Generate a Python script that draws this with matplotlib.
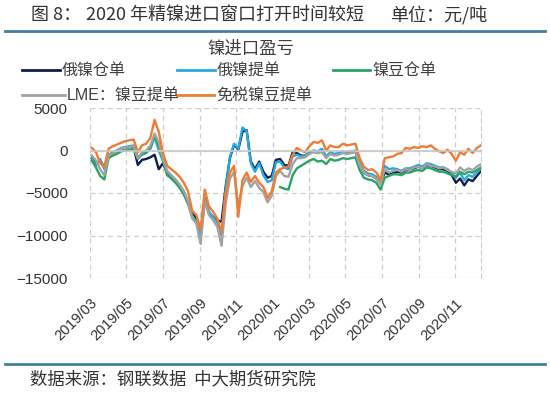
import numpy as np
import pandas as pd
import matplotlib
matplotlib.use('Agg')
import matplotlib.pyplot as plt
import matplotlib.dates as mdates
from matplotlib.lines import Line2D

plt.rcParams['font.family'] = ['Liberation Sans', 'Noto Sans CJK SC', 'DejaVu Sans']

# weekly readings, thousand yuan/ton
dates = pd.date_range('2019-03-04', periods=94, freq='7D')

ru_cang = [-0.9, -1.5, -1.2, -2.0, -0.6, -0.3, -0.1, 0.2, 0.3, 0.4,
           0.4, -1.7, -1.1, -1.0, -0.8, -0.5, -2.2, -1.5, -2.6, -3.1,
           -3.6, -4.2, -4.9, -6.2, -7.2, -8.0, -10.0, -5.8, -7.4, -7.8,
           -8.2, -8.4, -4.2, -0.9, 0.7, 0.1, 2.2, 2.4, -1.3, -2.2,
           -1.3, -2.5, -3.2, -3.0, -1.1, -1.0, -1.7, -1.8, -0.2, -0.3,
           -0.6, -0.6, -0.3, -0.1, -0.2, 0.1, -0.8, -0.3, -0.5, -0.4,
           -0.2, -0.3, -0.2, -0.1, -1.6, -2.6, -2.9, -3.0, -3.3, -3.9,
           -2.6, -2.8, -2.6, -2.5, -2.6, -2.3, -2.3, -2.1, -1.9, -2.1,
           -1.7, -1.8, -2.0, -2.2, -2.2, -2.4, -2.9, -3.8, -3.3, -4.1,
           -3.4, -3.6, -3.0, -2.4]

ru_ti = [-1.0, -1.8, -1.0, -2.2, -0.5, -0.2, 0.0, 0.3, 0.4, 0.5,
         0.6, -0.8, -0.5, -0.3, 0.2, 1.6, 0.0, -1.2, -2.5, -3.0,
         -3.5, -4.1, -4.8, -6.0, -7.9, -8.3, -10.2, -5.6, -7.2, -7.8,
         -8.5, -10.0, -4.5, -0.8, 0.8, 0.2, 2.7, 2.3, -1.5, -2.5,
         -1.5, -2.9, -3.7, -3.5, -1.4, -1.3, -2.0, -2.2, -0.7, -0.5,
         -0.7, -0.6, -0.2, 0.0, -0.1, 0.2, -0.7, -0.2, -0.4, -0.3,
         -0.1, -0.2, -0.1, 0.0, -1.5, -2.4, -2.7, -2.8, -3.1, -3.7,
         -1.8, -2.2, -2.1, -2.2, -2.4, -2.1, -2.1, -1.9, -1.7, -1.9,
         -1.5, -1.6, -1.8, -2.0, -2.0, -2.2, -2.6, -3.2, -2.6, -3.5,
         -2.9, -3.1, -2.6, -2.1]

dou_cang = [-1.2, -2.0, -3.0, -3.4, -0.9, -0.6, -0.4, -0.1, 0.0, 0.1,
            0.2, -1.0, -0.4, -0.2, 0.4, 1.6, 0.6, -1.2, -2.9, -3.3,
            -3.8, -4.4, -5.2, -6.3, -7.8] + [np.nan] * 20 + [
            -4.3, -4.5, -4.6, -2.9, -2.1,
            -1.8, -1.5, -1.2, -1.0, -1.3, -1.2, -1.6, -1.0, -1.2, -1.1,
            -0.9, -1.0, -0.9, -0.8, -2.3, -3.2, -3.4, -3.5, -3.8, -4.6,
            -3.2, -3.0, -2.8, -2.8, -2.9, -2.6, -2.6, -2.4, -2.3, -2.4,
            -2.0, -2.1, -2.3, -2.5, -2.5, -2.7, -2.9, -3.1, -2.5, -2.8,
            -2.5, -2.6, -2.3, -2.0]

lme_dou = [-0.6, -1.2, -2.2, -2.9, -0.6, -0.3, -0.1, 0.2, 0.3, 0.4,
           0.5, -0.9, -0.2, 0.0, 0.6, 2.0, 1.0, -1.0, -2.4, -2.9,
           -3.4, -4.0, -4.8, -6.0, -8.0, -8.6, -11.0, -6.0, -7.6, -8.2,
           -9.0, -11.2, -6.2, -3.3, -2.5, -6.5, -4.2, -3.2, -4.3, -3.6,
           -4.4, -4.9, -6.1, -5.3, -3.0, -2.4, -3.0, -3.1, -1.6, -0.9,
           -0.9, -0.8, -0.4, -0.2, -0.3, -0.2, -0.9, -0.4, -0.6, -0.5,
           -0.3, -0.4, -0.3, -0.2, -1.7, -2.6, -2.9, -3.0, -3.3, -4.0,
           -2.2, -2.6, -2.4, -2.3, -2.5, -2.2, -2.3, -2.0, -1.9, -2.1,
           -1.6, -1.8, -1.9, -2.1, -2.0, -2.3, -2.5, -2.7, -2.0, -2.4,
           -2.1, -2.3, -1.9, -1.6]

mianshui = [0.3, -0.2, -1.5, -1.9, 0.2, 0.5, 0.7, 0.9, 1.1, 1.2,
            1.3, -0.2, 0.6, 0.8, 1.5, 3.6, 2.2, -0.3, -1.8, -2.2,
            -2.6, -3.1, -3.8, -4.8, -7.1, -7.6, -9.3, -4.6, -6.6, -7.2,
            -8.0, -9.6, -5.0, -2.6, -1.8, -7.8, -3.5, -2.6, -3.7, -3.0,
            -3.8, -4.3, -5.6, -4.8, -2.6, -2.2, -2.0, -1.9, -0.5, 0.3,
            0.0, -0.2, 0.5, 1.0, 0.9, 1.2, 0.0, 0.6, 0.4, 0.4,
            0.8, 0.6, 0.7, 0.8, -0.9, -1.9, -2.3, -2.2, -2.6, -3.5,
            -0.9, -0.8, -0.7, -0.4, -0.3, 0.3, 0.2, 0.4, 0.3, 0.5,
            0.4, 0.6, 0.2, -0.1, -0.3, 0.1, -0.4, -1.2, -0.2, -0.5,
            0.2, -0.3, 0.3, 0.6]

labels = ['俄镍仓单', '俄镍提单', '镍豆仓单', 'LME：镍豆提单', '免税镍豆提单']
colors = ['#0d1f4c', '#29a8df', '#2aa565', '#a3a3a3', '#ee7d33']
yticks = [5000, 0, -5000, -10000, -15000]
xticks = pd.date_range('2019-03-01', '2020-11-01', freq='2MS')

W, H = 550, 394
fig = plt.figure(figsize=(W / 100, H / 100), dpi=100)
ax = fig.add_axes([90 / W, 1 - 278 / H, (481 - 90) / W, (278 - 108) / H])

for lab, vals, c in zip(labels, [ru_cang, ru_ti, dou_cang, lme_dou, mianshui], colors):
    ax.plot(dates, np.array(vals) * 1000, color=c, lw=1.7, label=lab)

ax.set_xlim(pd.Timestamp('2019-03-01'), pd.Timestamp('2020-12-14'))
ax.set_ylim(-15000, 5000)
ax.set_yticks(yticks)
ax.set_xticks(xticks)
ax.xaxis.set_major_formatter(mdates.DateFormatter('%Y/%m'))
ax.grid(True, color='#cfcfcf', ls=(0, (4, 3)), lw=0.9)
ax.axhline(0, color='#c8c8c8', lw=1.2)
for s in ax.spines.values():
    s.set_visible(False)
ax.spines['right'].set_visible(True)
ax.spines['right'].set_linestyle((0, (4, 3)))
ax.spines['right'].set_color('#cfcfcf')
ax.tick_params(length=0, labelsize=10.5, colors='#333333')
ax.tick_params(axis='y', labelsize=11, pad=16)
ax.tick_params(axis='x', pad=13)
for t in ax.get_xticklabels():
    t.set_rotation(45)
    t.set_ha('right')
    t.set_va('top')
    t.set_rotation_mode('anchor')

def fx(px):
    return px / W

def fy(py):
    return 1 - py / H

cjk = ['Noto Sans CJK SC', 'DejaVu Sans']
fig.text(fx(31), fy(15), '图 8：', family=cjk, fontsize=13, color='#333333', va='center')
fig.text(fx(86), fy(15), '2020 年精镍进口窗口打开时间较短', family=cjk,
         fontsize=13, color='#333333', va='center')
fig.text(fx(390), fy(15), '单位：元/吨', family=cjk, fontsize=13,
         color='#333333', va='center')
fig.add_artist(Line2D([fx(5), fx(545)], [fy(31), fy(31)], color='#44809e', lw=2))
fig.text(fx(251), fy(49), '镍进口盈亏', family=cjk, fontsize=12.5,
         color='#404040', ha='center', va='center')

leg = [(22, 60, 70), (177, 215, 70), (333, 370, 70), (22, 65, 95), (177, 214, 95)]
for (x0, x1, y), lab, c in zip(leg, labels, colors):
    fig.add_artist(Line2D([fx(x0), fx(x1)], [fy(y), fy(y)], color=c, lw=2))
    fig.text(fx(x1 + 2), fy(y), lab, family=['Liberation Sans', 'Noto Sans CJK SC'],
             fontsize=11.5, color='#404040', va='center')

fig.add_artist(Line2D([fx(5), fx(545)], [fy(364), fy(364)], color='#44809e', lw=2))
fig.text(fx(30), fy(379), '数据来源：钢联数据  中大期货研究院', family=cjk,
         fontsize=12.5, color='#333333', va='center')

fig.savefig('out.png', dpi=100)
